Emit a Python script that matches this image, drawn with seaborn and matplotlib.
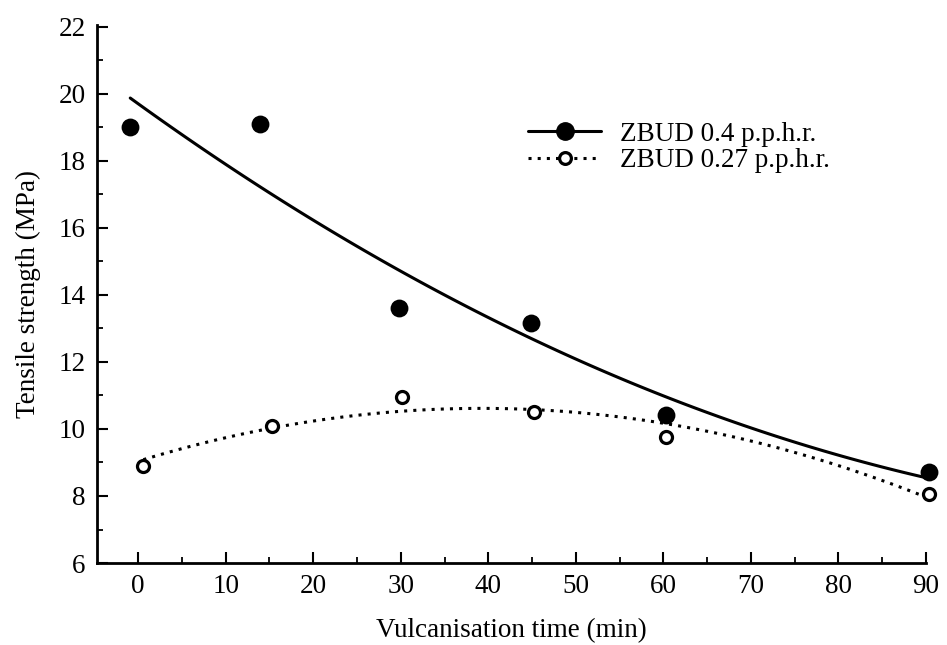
import matplotlib
matplotlib.use("Agg")
import matplotlib.pyplot as plt
from matplotlib.lines import Line2D
from matplotlib.ticker import MultipleLocator
import pandas as pd
import seaborn as sns

# Datos: tiempo de vulcanizado (min)
# y resistencia a la tension (MPa) para cada nivel de ZBUD
tiempo_04 = [-0.9, 13.9, 29.8, 44.9, 60.3, 90.3]
resistencia_04 = [19.0, 19.1, 13.6, 13.17, 10.42, 8.73]

tiempo_027 = [0.6, 15.3, 30.2, 45.2, 60.3, 90.4]
resistencia_027 = [8.9, 10.1, 10.96, 10.52, 9.75, 8.07]

etiquetas_series = ["ZBUD 0.4 p.p.h.r.", "ZBUD 0.27 p.p.h.r."]
ticks_x = [0, 10, 20, 30, 40, 50, 60, 70, 80, 90]
ticks_y = [6, 8, 10, 12, 14, 16, 18, 20, 22]


def main():
    # Estilo sin rejilla, todo en negro como en la figura impresa
    sns.set_style("ticks", {"axes.edgecolor": "black", "text.color": "black",
                            "xtick.color": "black", "ytick.color": "black",
                            "axes.labelcolor": "black"})
    # Se define la fuente despues de set_style para que no se reemplace
    plt.rcParams["font.family"] = ["Liberation Serif", "DejaVu Serif"]

    df_04 = pd.DataFrame({"tiempo": tiempo_04, "resistencia": resistencia_04})
    df_027 = pd.DataFrame({"tiempo": tiempo_027, "resistencia": resistencia_027})

    fig = plt.figure(figsize=(9.47, 6.45), dpi=100)
    ax = fig.add_axes([0.1024, 0.1271, 0.8754, 0.8341])

    # Curvas de ajuste cuadratico para cada serie
    sns.regplot(data=df_04, x="tiempo", y="resistencia", order=2, ci=None,
                scatter=False, ax=ax, color="black",
                line_kws={"linewidth": 2.2, "linestyle": "-"})
    sns.regplot(data=df_027, x="tiempo", y="resistencia", order=2, ci=None,
                scatter=False, ax=ax, color="black",
                line_kws={"linewidth": 2.2, "linestyle": (0, (1, 2))})

    # Puntos experimentales (sin recorte en el borde del eje)
    sns.scatterplot(data=df_04, x="tiempo", y="resistencia", ax=ax,
                    color="black", s=165, edgecolor="black", linewidth=0,
                    zorder=3, clip_on=False)
    sns.scatterplot(data=df_027, x="tiempo", y="resistencia", ax=ax,
                    facecolor="white", edgecolor="black", s=75, linewidth=2.3,
                    zorder=3, clip_on=False)

    ax.set_xlim(-4.7, 90)
    ax.set_ylim(6, 22.05)
    ax.set_xticks(ticks_x)
    ax.set_yticks(ticks_y)
    ax.xaxis.set_minor_locator(MultipleLocator(5))
    ax.yaxis.set_minor_locator(MultipleLocator(1))
    ax.tick_params(which="major", direction="in", length=8, width=1.5,
                   labelsize=19.5, pad=8)
    ax.tick_params(which="minor", direction="in", length=4.5, width=1.3)
    sns.despine(ax=ax)
    for lado in ["left", "bottom"]:
        ax.spines[lado].set_linewidth(2.0)

    ax.set_xlabel("Vulcanisation time (min)", fontsize=19.5, labelpad=14)
    ax.set_ylabel("Tensile strength (MPa)", fontsize=19.5, labelpad=13)

    # Leyenda con linea y marcador en el centro
    manejadores = [
        Line2D([], [], color="black", linewidth=2.2, linestyle="-",
               marker="o", markersize=12.5, markerfacecolor="black"),
        Line2D([], [], color="black", linewidth=2.2, linestyle=(0, (1, 2)),
               marker="o", markersize=8.5, markerfacecolor="white",
               markeredgewidth=2.3),
    ]
    ax.legend(manejadores, etiquetas_series, loc="upper left",
              bbox_to_anchor=(0.52, 0.82), frameon=False, fontsize=19.5,
              handlelength=2.7, handletextpad=0.7, labelspacing=0.05,
              borderpad=0, borderaxespad=0, numpoints=1)

    fig.savefig("out.png", dpi=100)


if __name__ == "__main__":
    main()
